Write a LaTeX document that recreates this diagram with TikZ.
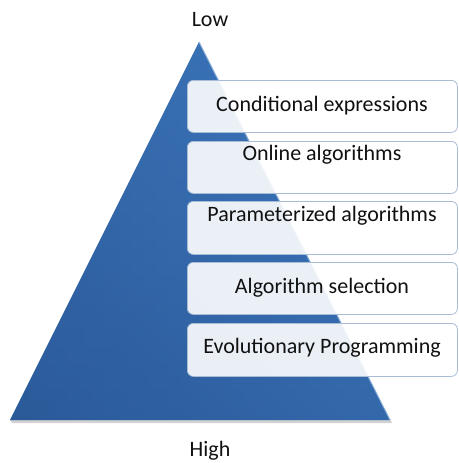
\documentclass[tikz,border=0pt]{standalone}
\usepackage{fontspec}
\setmainfont{Carlito}
\definecolor{triA}{HTML}{2B5A99}
\definecolor{triB}{HTML}{3D78BE}
\definecolor{boxline}{HTML}{A8BCD6}
\definecolor{txt}{HTML}{111111}
\tikzset{
  lvl/.style={draw=boxline, line width=0.8pt, rounded corners=6pt, fill=white, fill opacity=0.9, text opacity=1, minimum width=270pt, inner sep=0pt, anchor=north west},
  lbl/.style={font=\fontsize{22}{26}\selectfont, text=txt}
}
\begin{document}
\begin{tikzpicture}[x=1pt,y=-1pt]
\useasboundingbox (0,0) rectangle (458,463);
% shadow of triangle
\fill[gray!35] (12,423) -- (392,423) -- (390,419) -- (10,419) -- cycle;
% triangle
\shade[left color=triA, right color=triB] (199,42) coordinate (apex) -- (390,420) coordinate (br) -- (10,420) coordinate (bl) -- cycle;
\shade[top color=triB, bottom color=triA, opacity=0.5] (apex) -- (br) -- (bl) -- cycle;
\draw[triB!60!white, line width=1pt] (apex) -- (br);
% boxes
\node[lvl, minimum height=52pt] (b1) at (187,80) {};
\node[lvl, minimum height=52pt] (b2) at (187,141) {};
\node[lvl, minimum height=53pt] (b3) at (187,201) {};
\node[lvl, minimum height=52pt] (b4) at (187,262) {};
\node[lvl, minimum height=53pt] (b5) at (187,323) {};
% texts
\node[lbl] (t1) at (322,106) {Conditional expressions};
\node[lbl] (t2) at (322,155) {Online algorithms};
\node[lbl] (t3) at (322,216) {Parameterized algorithms};
\node[lbl] (t4) at (322,288) {Algorithm selection};
\node[lbl] (t5) at (322,348) {Evolutionary Programming};
\node[lbl] (low) at (210,20) {Low};
\node[lbl] (high) at (210,451) {High};
\end{tikzpicture}
\end{document}
